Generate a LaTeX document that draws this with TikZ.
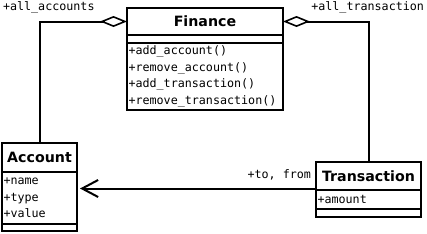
\documentclass[tikz,border=0pt]{standalone}
\usepackage{fontspec}
\setmainfont{DejaVu Sans}
\newfontfamily\umlmono{DejaVu Sans Mono}
\usetikzlibrary{positioning,arrows.meta}

\begin{document}
\begin{tikzpicture}[
  x=1pt,y=-1pt,
  line width=2pt,
  classname/.style={rectangle,draw,outer sep=0pt,inner sep=0pt,
                    font=\bfseries\fontsize{14.2}{16}\selectfont},
  members/.style={rectangle,draw,outer sep=0pt,inner xsep=1.5pt,inner ysep=0pt,
                  align=left,font=\umlmono\fontsize{11.7}{16.7}\selectfont},
  rolename/.style={font=\umlmono\fontsize{11.7}{14}\selectfont,inner sep=0pt},
  aggr/.style={-{Diamond[open,length=27pt,width=11pt,line width=1.6pt]}},
  navig/.style={-{Straight Barb[length=16pt,width=17pt]},shorten >=3pt},
]
\useasboundingbox (0,0) rectangle (427,233);

% Finance class
\node[classname,minimum width=156pt,minimum height=27pt] (fin) at (205,21.5) {Finance};
\node[members,text width=153pt,minimum height=8pt,below=0pt of fin] (finattr) {};
\node[members,text width=153pt,minimum height=67pt,below=0pt of finattr] (finops)
  {+add\_account()\\+remove\_account()\\+add\_transaction()\\+remove\_transaction()};

% Account class
\node[classname,minimum width=75pt,minimum height=29pt] (acc) at (39.5,157.5) {Account};
\node[members,text width=72pt,minimum height=52pt,below=0pt of acc] (accattr)
  {+name\\+type\\+value};
\node[members,text width=72pt,minimum height=7pt,below=0pt of accattr] (accops) {};

% Transaction class
\node[classname,minimum width=105pt,minimum height=28pt] (tra) at (368.5,176) {Transaction};
\node[members,text width=102pt,minimum height=19pt,below=0pt of tra] (traattr) {+amount};
\node[members,text width=102pt,minimum height=8pt,below=0pt of traattr] (traops) {};

% Associations
\draw[aggr] (acc.north) |- (fin.west);
\draw[aggr] (tra.north) |- (fin.east);
\draw[navig] ([yshift=1.5pt]tra.south west) -- ([yshift=1.5pt]tra.south west -| accattr.east);

% Role names
\node[rolename,anchor=west] (accrole) at (2,7) {+all\_accounts};
\node[rolename,anchor=east] (trarole) at (425,7) {+all\_transaction};
\node[rolename,anchor=east] (tofrom) at (312,175) {+to, from};

\end{tikzpicture}
\end{document}
